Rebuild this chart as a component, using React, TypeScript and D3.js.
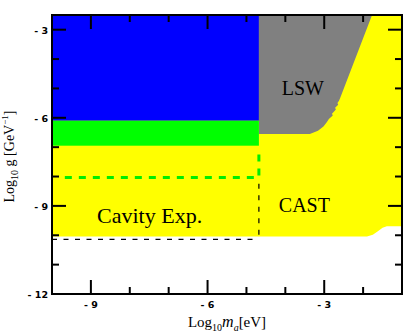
import * as d3 from 'd3';

// Axis ranges (log10 values)
const massDomain = [-10, -1];
const couplingDomain = [-12, -2.5];
const majorTicks = [-9, -6, -3];
const majorTicksY = [-12, -9, -6, -3];

// Excluded regions, as [log10 m_a, log10 g]
const cavityEdge = -4.68;
const blueBand = [-6.1, -2.5];
const greenBand = [-6.95, -6.1];
const castBoundary = [
  [-10, -2.5], [-1, -2.5], [-1, -9.69], [-1.39, -9.69], [-1.5, -9.74],
  [-1.62, -9.86], [-1.75, -9.98], [-1.9, -10.04], [-10, -10.04],
];
const lswBoundary = [
  [cavityEdge, -2.5], [-1.77, -2.5], [-2.59, -5.33], [-2.62, -5.42],
  [-2.66, -5.5], [-2.64, -5.56], [-2.72, -5.66], [-2.7, -5.72],
  [-2.8, -5.86], [-2.78, -5.92], [-2.88, -6.04], [-2.93, -6.14],
  [-3.02, -6.3], [-3.16, -6.44], [-3.37, -6.55], [cavityEdge, -6.55],
];
const greenDashed = [[-9.67, -8.03], [cavityEdge - 0.1, -8.03], [cavityEdge, -8.03], [cavityEdge, -7.2]];
const blackDashedH = [[-10, -10.14], [cavityEdge, -10.14]];
const blackDashedV = [[cavityEdge, -8.25], [cavityEdge, -10.14]];

// Region labels: [text, log10 m_a, log10 g, font size]
const regionLabels: [string, number, number, number][] = [
  ['LSW', -3.55, -5.22, 20],
  ['CAST', -3.51, -9.21, 20],
  ['Cavity Exp.', -7.49, -9.58, 22],
];

const W = 409;
const H = 334;
const m = { left: 52, top: 15, right: 7, bottom: 40 };

export default function App() {
  const x = d3.scaleLinear().domain(massDomain).range([m.left, W - m.right]);
  const y = d3.scaleLinear().domain(couplingDomain).range([H - m.bottom, m.top]);
  const line = d3.line<number[]>().x(d => x(d[0])).y(d => y(d[1]));
  const area = (pts: number[][]) => line(pts) + 'Z';

  const x0 = x(massDomain[0]);
  const x1 = x(massDomain[1]);
  const y0 = y(couplingDomain[0]);
  const y1 = y(couplingDomain[1]);

  const xTicks = d3.range(-10, 0, 1).filter(v => v > -10 && v < -1);
  const yTicks = d3.range(-12, -2, 1).filter(v => v > -12);
  const tickFont = { fontFamily: "'DejaVu Sans', sans-serif", fontWeight: 700, fontSize: 9.5 };
  const serif = "'Liberation Serif', 'Times New Roman', serif";
  const fmt = (v: number) => '- ' + Math.abs(v);

  return (
    <svg width={W} height={H} style={{ position: 'absolute', left: 0, top: 0 }}>
      <rect width={W} height={H} fill="#fff" />
      <path d={area(castBoundary)} fill="#ffff00" />
      <path d={area(lswBoundary)} fill="#808080" />
      <rect x={x0} y={y(blueBand[1])} width={x(cavityEdge) - x0} height={y(blueBand[0]) - y(blueBand[1])} fill="#0000ff" />
      <rect x={x0} y={y(greenBand[1])} width={x(cavityEdge) - x0} height={y(greenBand[0]) - y(greenBand[1])} fill="#00ff00" />

      <path d={line(greenDashed) ?? ''} fill="none" stroke="#00ee00" strokeWidth={3} strokeDasharray="7,7" />
      <path d={line(blackDashedH) ?? ''} fill="none" stroke="#000" strokeWidth={1.2} strokeDasharray="5,6.5" />
      <path d={line(blackDashedV) ?? ''} fill="none" stroke="#000" strokeWidth={1.2} strokeDasharray="5,6.5" />

      {regionLabels.map(([t, mx, gy, fs]) => (
        <text key={t} x={x(mx)} y={y(gy)} textAnchor="middle" fontFamily={serif} fontSize={fs}>{t}</text>
      ))}

      {/* frame and inward ticks */}
      <rect x={x0} y={y1} width={x1 - x0} height={y0 - y1} fill="none" stroke="#000" strokeWidth={2} />
      {xTicks.map(v => {
        const len = majorTicks.includes(v) ? 14 : 7;
        return (
          <g key={'x' + v} stroke="#000" strokeWidth={2}>
            <line x1={x(v)} x2={x(v)} y1={y0} y2={y0 - len} />
            <line x1={x(v)} x2={x(v)} y1={y1} y2={y1 + len} />
          </g>
        );
      })}
      {yTicks.map(v => {
        const len = majorTicksY.includes(v) ? 14 : 7;
        return (
          <g key={'y' + v} stroke="#000" strokeWidth={2}>
            <line x1={x0} x2={x0 + len} y1={y(v)} y2={y(v)} />
            <line x1={x1} x2={x1 - len} y1={y(v)} y2={y(v)} />
          </g>
        );
      })}
      {majorTicks.map(v => (
        <text key={'xl' + v} x={x(v)} y={y0 + 14} textAnchor="middle" {...tickFont}>{fmt(v)}</text>
      ))}
      {majorTicksY.map(v => (
        <text key={'yl' + v} x={x0 - 4} y={y(v) + 4} textAnchor="end" {...tickFont}>{fmt(v)}</text>
      ))}

      <text x={(x0 + x1) / 2} y={327} textAnchor="middle" fontFamily={serif} fontSize={15}>
        Log<tspan fontSize={10} dy={4}>10</tspan>
        <tspan dy={-4} fontStyle="italic" fontSize={16}>m</tspan>
        <tspan fontStyle="italic" fontSize={10} dy={4}>a</tspan>
        <tspan dy={-4}>[eV]</tspan>
      </text>
      <text transform={`translate(14,${(y0 + y1) / 2 + 2}) rotate(-90)`} textAnchor="middle" fontFamily={serif} fontSize={14}>
        Log<tspan fontSize={10} dy={4}>10</tspan>
        <tspan dy={-4}> g [GeV</tspan>
        <tspan fontSize={9} dy={-6}>−1</tspan>
        <tspan dy={6}>]</tspan>
      </text>
    </svg>
  );
}
